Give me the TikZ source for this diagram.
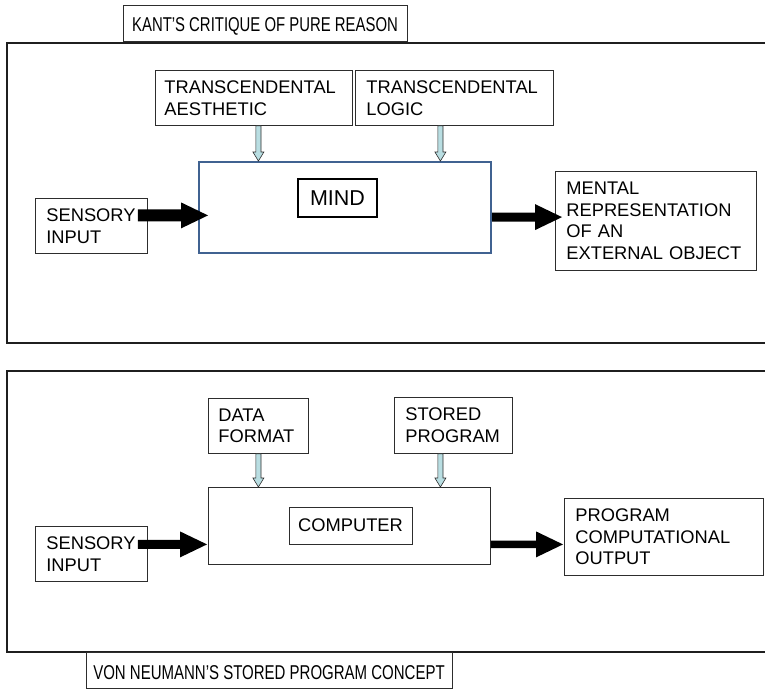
\documentclass[tikz,border=0pt]{standalone}
\usepackage{graphicx}
\usepackage{fontspec}
\setmainfont{Liberation Sans}
\usetikzlibrary{calc}

\definecolor{mindblue}{RGB}{64,98,145}
\definecolor{feedfill}{RGB}{185,222,226}
\definecolor{boxline}{RGB}{45,45,45}

\tikzset{
  panel/.style={draw=black!88, line width=2.4pt},
  titlebox/.style={draw=boxline, line width=0.8pt, inner sep=0pt,
    text height=14.3pt, text depth=0pt,
    font=\fontsize{20}{23}\selectfont},
  labelbox/.style={draw=boxline, line width=0.8pt, anchor=north west,
    align=left, inner ysep=0pt, font=\fontsize{18.3}{21.7}\selectfont},
  framebox/.style={anchor=north west, inner sep=0pt},
  tagbox/.style={inner sep=0pt},
  feedarrow/.style={fill=feedfill, draw=boxline, line width=0.6pt},
  bigarrow/.style={fill=black},
}

% thin vertical feed arrow from #1 down to the height of #2
\newcommand{\vArrow}[2]{%
  \draw[feedarrow] let \p1=(#1), \p2=(#2) in
    (\x1-2.6pt,\y1) -- (\x1+2.6pt,\y1) -- (\x1+2.6pt,\y2+9pt) -- (\x1+5.5pt,\y2+9pt)
    -- (\x1,\y2) -- (\x1-5.5pt,\y2+9pt) -- (\x1-2.6pt,\y2+9pt) -- cycle;}

% heavy horizontal arrow from #1 to the x of #2 (+#4), shaft half-width #3
\newcommand{\hArrow}[4]{%
  \fill[bigarrow] let \p1=(#1), \p2=(#2) in
    (\x1,\y1-#3) -- (\x2+#4-27pt,\y1-#3) -- (\x2+#4-27pt,\y1-13pt)
    -- (\x2+#4,\y1) -- (\x2+#4-27pt,\y1+13pt) -- (\x2+#4-27pt,\y1+#3)
    -- (\x1,\y1+#3) -- cycle;}

\begin{document}
\begin{tikzpicture}[x=1pt,y=-1pt]
\useasboundingbox (0,0) rectangle (765,691);
\clip (0,0) rectangle (765,691);

% outer panels
\draw[panel] (7,43) rectangle (785,343);
\draw[panel] (7,371) rectangle (785,652);

% titles
\node[titlebox, minimum width=284pt, minimum height=36pt] (kant) at (265,23)
  {\raisebox{-1.5pt}{\scalebox{0.745}[1]{KANT’S CRITIQUE OF PURE REASON}}};
\node[titlebox, minimum width=366pt, minimum height=36pt] (vonneumann) at (269,670.5)
  {\raisebox{-1.5pt}{\scalebox{0.75}[1]{VON NEUMANN’S STORED PROGRAM CONCEPT}}};

% ---- upper panel ----
\node[labelbox, inner xsep=9pt, text width=179pt, minimum height=55pt] (aes) at (155,70)
  {TRANSCENDENTAL\\AESTHETIC};
\node[labelbox, inner xsep=11pt, text width=176pt, minimum height=55pt] (log) at (355,70)
  {TRANSCENDENTAL\\LOGIC};
\node[framebox, draw=mindblue, line width=2.2pt, minimum width=292pt, minimum height=91pt] (mind) at (198,161) {};
\node[tagbox, draw=black, line width=1.8pt, minimum width=79pt, minimum height=38pt,
  font=\fontsize{21.5}{24}\selectfont] (mindlbl) at (337.5,198) {MIND};
\node[labelbox, inner xsep=11pt, text width=90pt, minimum height=55pt] (sens1) at (35,198)
  {SENSORY\\INPUT};
\node[labelbox, inner xsep=11pt, text width=179pt, minimum height=99pt] (ment) at (555,171)
  {MENTAL\\REPRESENTATION\\OF AN\\EXTERNAL OBJECT};

\coordinate (aesFoot) at ([xshift=4.5pt]aes.south);
\coordinate (logFoot) at ([xshift=-14pt]log.south);
\vArrow{aesFoot}{mind.north}
\vArrow{logFoot}{mind.north}

\coordinate (sensAOut) at ([shift={(-10pt,10.5pt)}]sens1.east);
\coordinate (mindOut) at ([yshift=-9.5pt]mind.east);
\hArrow{sensAOut}{mind.west}{6pt}{10pt}
\hArrow{mindOut}{ment.west}{4.5pt}{7pt}

% ---- lower panel ----
\node[labelbox, inner xsep=10pt, text width=80pt, minimum height=55pt] (data) at (208,398)
  {DATA\\FORMAT};
\node[labelbox, inner xsep=11pt, text width=96pt, minimum height=56pt] (stor) at (394,397)
  {STORED\\PROGRAM};
\node[framebox, draw=boxline, line width=0.8pt, minimum width=282pt, minimum height=77pt] (comp) at (208,487) {};
\node[tagbox, draw=boxline, line width=0.8pt, minimum width=123pt, minimum height=37pt,
  font=\fontsize{18.3}{21.7}\selectfont] (complbl) at (350.5,525.5) {COMPUTER};
\node[labelbox, inner xsep=11pt, text width=90pt, minimum height=55pt] (sens2) at (35,526)
  {SENSORY\\INPUT};
\node[labelbox, inner xsep=11pt, text width=177pt, minimum height=77pt] (prog) at (564,498)
  {PROGRAM\\COMPUTATIONAL\\OUTPUT};

\coordinate (dataFoot) at (data.south);
\coordinate (storFoot) at ([xshift=-13pt]stor.south);
\vArrow{dataFoot}{comp.north}
\vArrow{storFoot}{comp.north}

\coordinate (sensBOut) at ([shift={(-10pt,9.5pt)}]sens2.east);
\coordinate (compOut) at ([yshift=-18.5pt]comp.east);
\hArrow{sensBOut}{comp.west}{4.5pt}{-1pt}
\hArrow{compOut}{prog.west}{3.8pt}{-1pt}
\end{tikzpicture}
\end{document}
